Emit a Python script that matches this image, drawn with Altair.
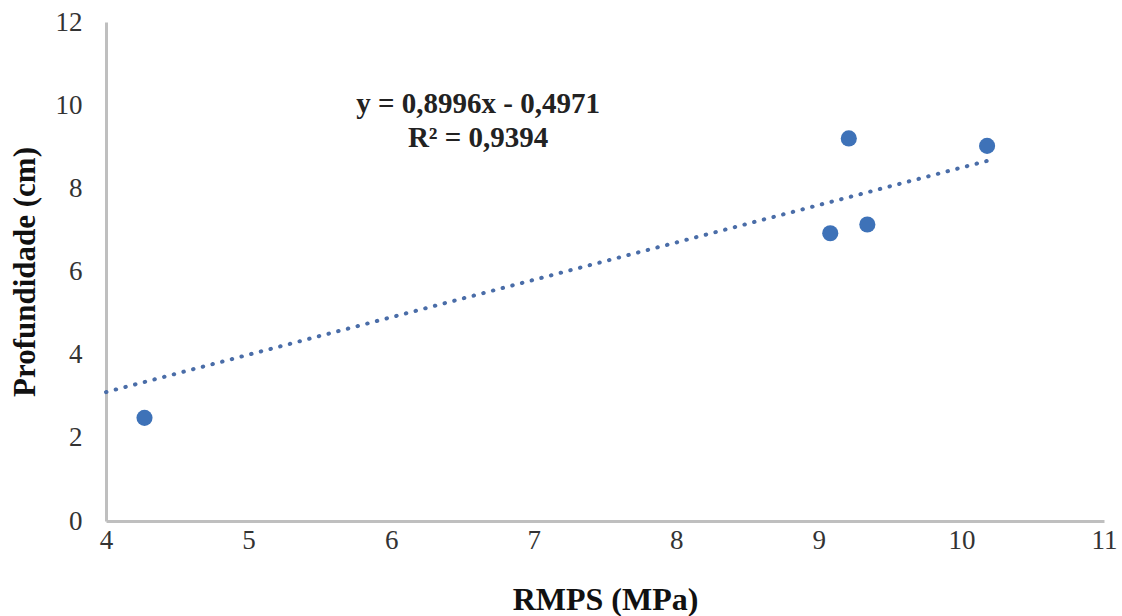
import altair as alt
import pandas as pd

# Data
rmps = [4.27, 9.08, 9.21, 9.34, 10.18]
profundidade = [2.48, 6.92, 9.20, 7.13, 9.02]

# Trendline endpoints (as drawn)
trend_x = [4.0, 10.18]
trend_y = [3.10, 8.66]

ann_text = ["y = 0,8996x - 0,4971", "R² = 0,9394"]
ann_x = [6.61, 6.61]
ann_y = [10.03, 9.22]

x_ticks = [4, 5, 6, 7, 8, 9, 10, 11]
y_ticks = [0, 2, 4, 6, 8, 10, 12]

pts = pd.DataFrame({"x": rmps, "y": profundidade})
trend = pd.DataFrame({"x": trend_x, "y": trend_y})
ann = pd.DataFrame({"x": ann_x, "y": ann_y, "t": ann_text})

FONT = "Liberation Serif"

xs = alt.Scale(domain=[4, 11], nice=False, zero=False)
ys = alt.Scale(domain=[0, 12], nice=False, zero=False)

x_axis = alt.Axis(
    title="RMPS (MPa)", values=x_ticks, format="d", grid=False, ticks=False,
    labelFlush=False, domainColor="#BFBFBF", domainWidth=3, labelFont=FONT,
    labelFontSize=27, labelColor="#333333", labelPadding=6, titleFont=FONT,
    titleFontSize=32, titleFontWeight="bold", titleColor="#111111", titlePadding=31,
)
y_axis = alt.Axis(
    title="Profundidade (cm)", values=y_ticks, format="d", grid=False, ticks=False,
    labelFlush=False, domainColor="#BFBFBF", domainWidth=3, labelFont=FONT,
    labelFontSize=27, labelColor="#333333", labelPadding=24, titleFont=FONT,
    titleFontSize=31, titleFontWeight="bold", titleColor="#111111", titlePadding=14,
)

line = alt.Chart(trend).mark_line(
    color="#4A6DA8", strokeWidth=4, strokeDash=[0.5, 9.5], strokeCap="round"
).encode(
    x=alt.X("x:Q", scale=xs, axis=x_axis),
    y=alt.Y("y:Q", scale=ys, axis=y_axis),
)

points = alt.Chart(pts).mark_circle(size=260, opacity=1, color="#3E72B8").encode(
    x=alt.X("x:Q", scale=xs),
    y=alt.Y("y:Q", scale=ys),
)

text = alt.Chart(ann).mark_text(
    font=FONT, fontSize=29, fontWeight="bold", color="#222222", align="center", baseline="middle"
).encode(
    x=alt.X("x:Q", scale=xs),
    y=alt.Y("y:Q", scale=ys),
    text="t:N",
)

chart = alt.layer(line, points, text).properties(
    width=998, height=499,
    background="white",
    autosize=alt.AutoSizeParams(type="none"),
    padding={"left": 106, "top": 22, "right": 18, "bottom": 95},
).configure_view(stroke="transparent", strokeWidth=0)

chart.save("out.html", embed_options={"renderer": "svg", "actions": False})
